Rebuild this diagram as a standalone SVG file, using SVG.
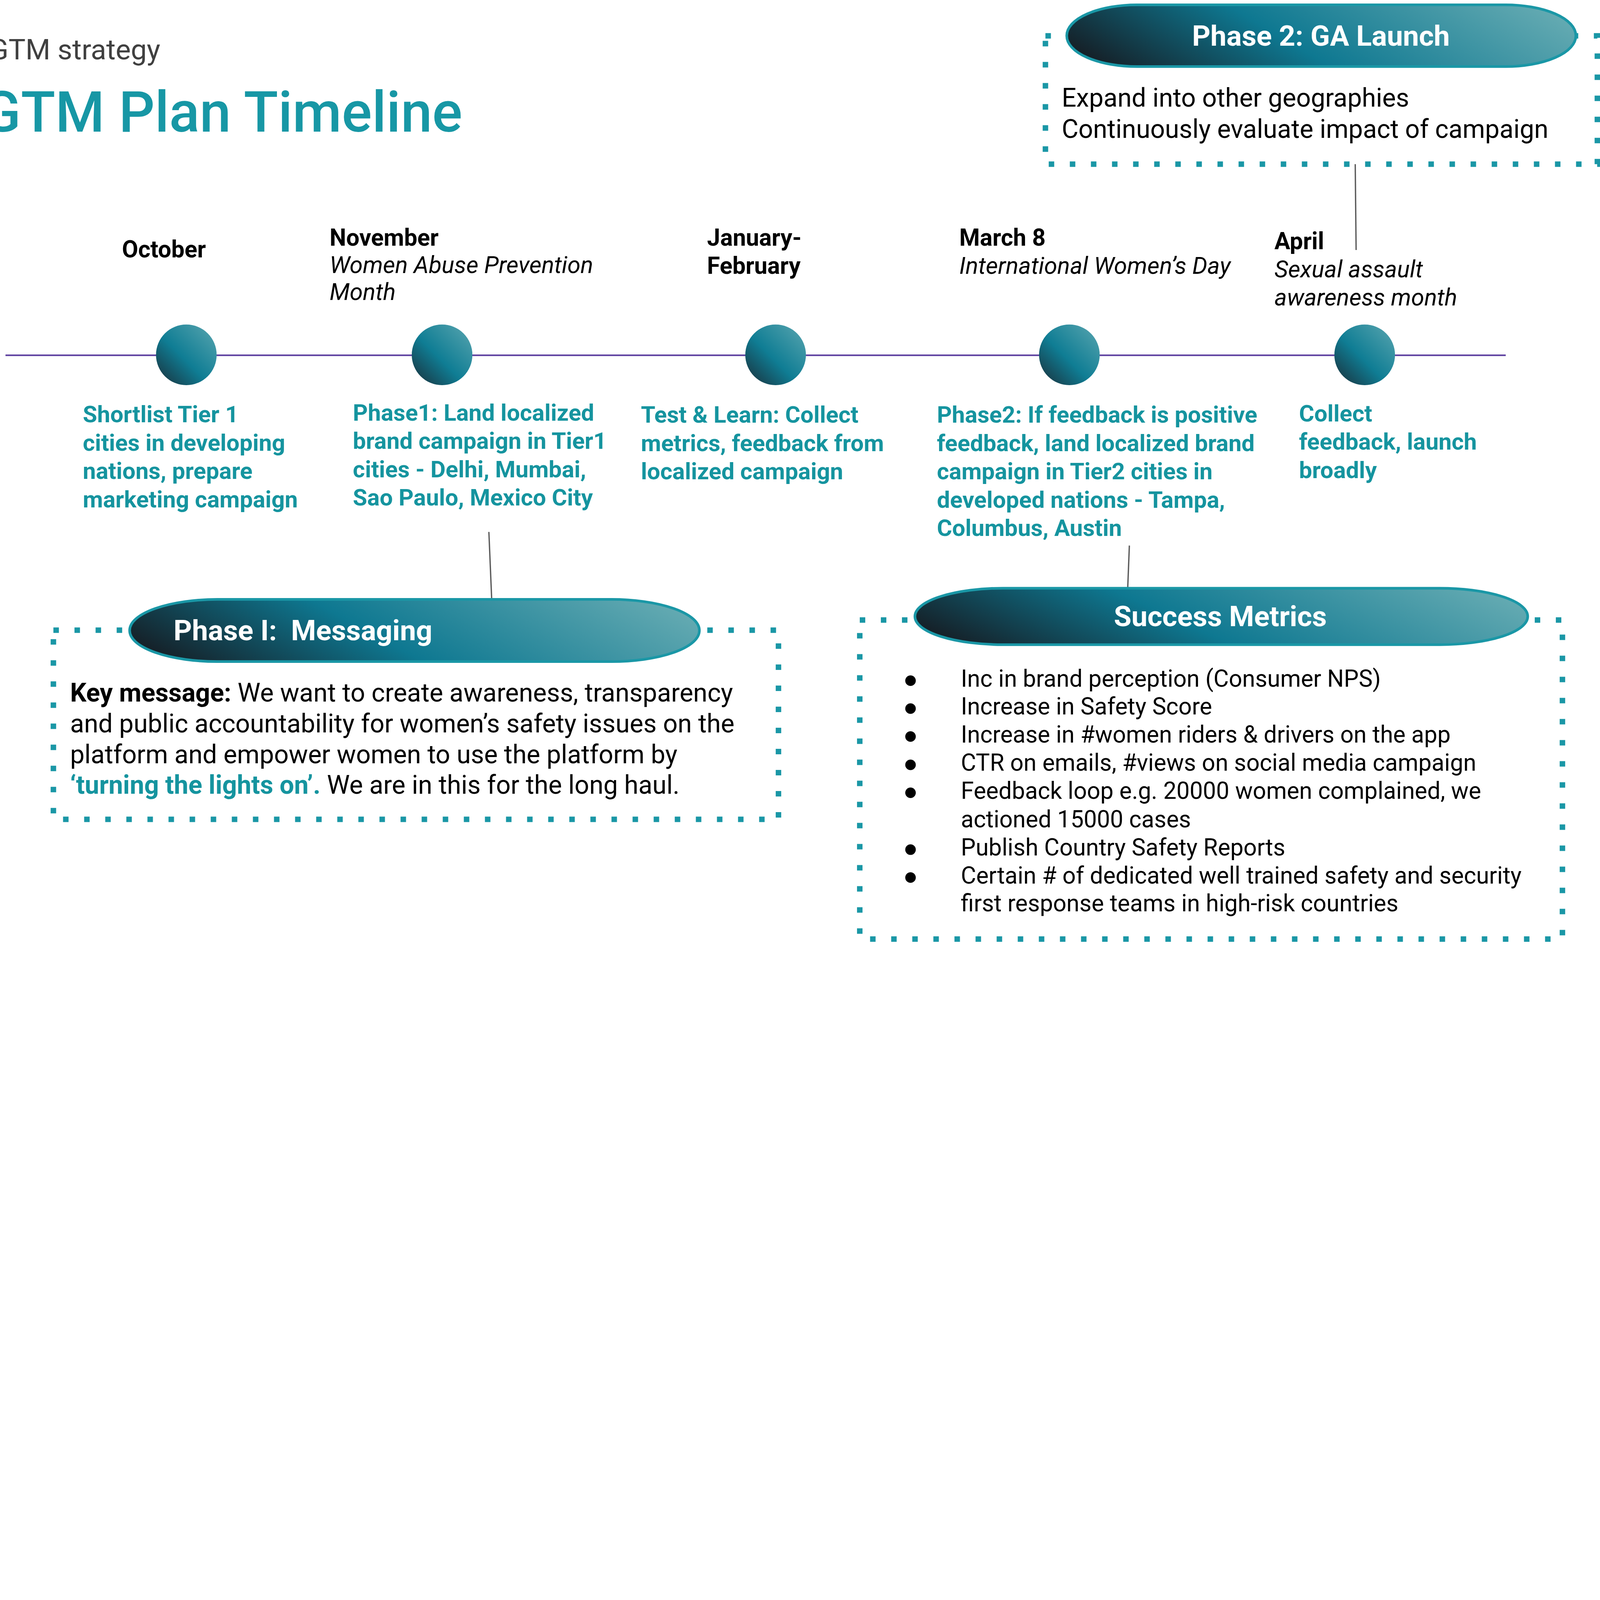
<svg xmlns="http://www.w3.org/2000/svg" width="7282" height="4291" viewBox="0 0 7282 4291" preserveAspectRatio="xMinYMin meet">
  <defs>
    <linearGradient id="gDot" x1="0" y1="1" x2="1" y2="0">
      <stop offset="0" stop-color="#1b2c36"/>
      <stop offset="0.45" stop-color="#0f7d94"/>
      <stop offset="1" stop-color="#5ba6b0"/>
    </linearGradient>
    <linearGradient id="gPill" x1="0" y1="0.6" x2="1" y2="0.4">
      <stop offset="0" stop-color="#15222a"/>
      <stop offset="0.42" stop-color="#0e7891"/>
      <stop offset="1" stop-color="#62a9b1"/>
    </linearGradient>
    <style>
      svg:root { width: 100vw; height: 100vh; }
      text { font-family: Roboto, "Liberation Sans", Arial, sans-serif; }
      .dot { fill: url(#gDot); }
      .pill { fill: url(#gPill); stroke: #1a97a6; stroke-width: 12; }
      .pilltxt { font-size: 130px; font-weight: 700; fill: #ffffff; white-space: pre; }
      .frame { fill: none; stroke: #1a97a6; stroke-width: 25; stroke-dasharray: 25 71; }
      .date { font-size: 107px; font-weight: 700; fill: #000000; }
      .sub { font-size: 108px; font-style: italic; fill: #000000; }
      .step { font-size: 106px; font-weight: 700; fill: #15949f; }
      .body { font-size: 117px; fill: #000000; }
      .metric { font-size: 107px; fill: #000000; }
      .conn { stroke: #5a5a5a; stroke-width: 6; fill: none; }
      .axis { stroke: #5b3d9e; stroke-width: 7; fill: none; }
    </style>
  </defs>
  <rect x="0" y="0" width="7282" height="4291" fill="#ffffff"/>

  <g id="header">
    <text x="-50" y="270" font-size="130" fill="#404040">GTM strategy</text>
    <text x="-80" y="600" font-size="257" font-weight="500" fill="#1797a5">GTM Plan Timeline</text>
  </g>

  <g id="connectors">
    <line class="axis" x1="25" y1="1617" x2="6853" y2="1617"/>
    <line class="conn" x1="2225" y1="2421" x2="2238" y2="2732"/>
    <line class="conn" x1="5140" y1="2483" x2="5132" y2="2690"/>
    <line class="conn" x1="6168" y1="747" x2="6172" y2="1138"/>
  </g>

  <g id="m-october">
    <text class="date" x="555" y="1172">October</text>
    <circle class="dot" cx="848" cy="1615" r="138"/>
    <text class="step"><tspan x="377" y="1922">Shortlist Tier 1</tspan><tspan x="377" y="2051">cities in developing</tspan><tspan x="377" y="2180">nations, prepare</tspan><tspan x="377" y="2309">marketing campaign</tspan></text>
  </g>

  <g id="m-november">
    <text class="date" x="1500" y="1118">November</text>
    <text class="sub"><tspan x="1500" y="1242">Women Abuse Prevention</tspan><tspan x="1500" y="1365">Month</tspan></text>
    <circle class="dot" cx="2012" cy="1615" r="138"/>
    <text class="step"><tspan x="1606" y="1914">Phase1: Land localized</tspan><tspan x="1606" y="2043">brand campaign in Tier1</tspan><tspan x="1606" y="2172">cities - Delhi, Mumbai,</tspan><tspan x="1606" y="2301">Sao Paulo, Mexico City</tspan></text>
  </g>

  <g id="m-janfeb">
    <text class="date"><tspan x="3218" y="1119">January-</tspan><tspan x="3218" y="1246">February</tspan></text>
    <circle class="dot" cx="3530" cy="1615" r="138"/>
    <text class="step"><tspan x="2917" y="1924">Test &amp; Learn: Collect</tspan><tspan x="2917" y="2053">metrics, feedback from</tspan><tspan x="2917" y="2182">localized campaign</tspan></text>
  </g>

  <g id="m-march">
    <text class="date" x="4366" y="1119">March 8</text>
    <text class="sub" x="4366" y="1246">International Women’s Day</text>
    <circle class="dot" cx="4867" cy="1615" r="138"/>
    <text class="step"><tspan x="4264" y="1924">Phase2: If feedback is positive</tspan><tspan x="4264" y="2053">feedback, land localized brand</tspan><tspan x="4264" y="2182">campaign in Tier2 cities in</tspan><tspan x="4264" y="2311">developed nations - Tampa,</tspan><tspan x="4264" y="2440">Columbus, Austin</tspan></text>
  </g>

  <g id="m-april">
    <text class="date" x="5800" y="1135" font-size="132">April</text>
    <text class="sub"><tspan x="5800" y="1263">Sexual assault</tspan><tspan x="5800" y="1390">awareness month</tspan></text>
    <circle class="dot" cx="6211" cy="1615" r="138"/>
    <text class="step"><tspan x="5912" y="1918">Collect</tspan><tspan x="5912" y="2047">feedback, launch</tspan><tspan x="5912" y="2176">broadly</tspan></text>
  </g>

  <g id="phase1-box">
    <rect class="frame" x="243" y="2868" width="3300" height="861"/>
    <rect class="pill" x="590" y="2728" width="2593" height="283" rx="400" ry="141"/>
    <text class="pilltxt" x="790" y="2913">Phase I:  Messaging</text>
    <text class="body"><tspan x="319" y="3193"><tspan font-weight="700">Key message:</tspan> We want to create awareness, transparency</tspan><tspan x="319" y="3333">and public accountability for women’s safety issues on the</tspan><tspan x="319" y="3473">platform and empower women to use the platform by</tspan><tspan x="319" y="3613"><tspan font-weight="700" fill="#15949f">‘turning the lights on’.</tspan> We are in this for the long haul.</tspan></text>
  </g>

  <g id="success-box">
    <rect class="frame" x="3913" y="2822" width="3198" height="1452"/>
    <rect class="pill" x="4164" y="2677" width="2789" height="257" rx="400" ry="128"/>
    <text class="pilltxt" x="5554" y="2850" text-anchor="middle">Success Metrics</text>
    <g fill="#000000">
      <circle cx="4144" cy="3098" r="24"/>
      <circle cx="4144" cy="3225" r="24"/>
      <circle cx="4144" cy="3352" r="24"/>
      <circle cx="4144" cy="3481" r="24"/>
      <circle cx="4144" cy="3608" r="24"/>
      <circle cx="4144" cy="3867" r="24"/>
      <circle cx="4144" cy="3994" r="24"/>
    </g>
    <text class="metric"><tspan x="4373" y="3125">Inc in brand perception (Consumer NPS)</tspan><tspan x="4373" y="3252">Increase in Safety Score</tspan><tspan x="4373" y="3379">Increase in #women riders &amp; drivers on the app</tspan><tspan x="4373" y="3508">CTR on emails, #views on social media campaign</tspan><tspan x="4373" y="3635">Feedback loop e.g. 20000 women complained, we</tspan><tspan x="4373" y="3765">actioned 15000 cases</tspan><tspan x="4373" y="3894">Publish Country Safety Reports</tspan><tspan x="4373" y="4021">Certain # of dedicated well trained safety and security</tspan><tspan x="4373" y="4148">first response teams in high-risk countries</tspan></text>
  </g>

  <g id="phase2-box">
    <rect class="frame" x="4758" y="163" width="2512" height="584"/>
    <rect class="pill" x="4855" y="22" width="2317" height="281" rx="320" ry="140"/>
    <text class="pilltxt" x="6012" y="208" text-anchor="middle">Phase 2: GA Launch</text>
    <text class="body"><tspan x="4832" y="485">Expand into other geographies</tspan><tspan x="4832" y="628">Continuously evaluate impact of campaign</tspan></text>
  </g>
</svg>
